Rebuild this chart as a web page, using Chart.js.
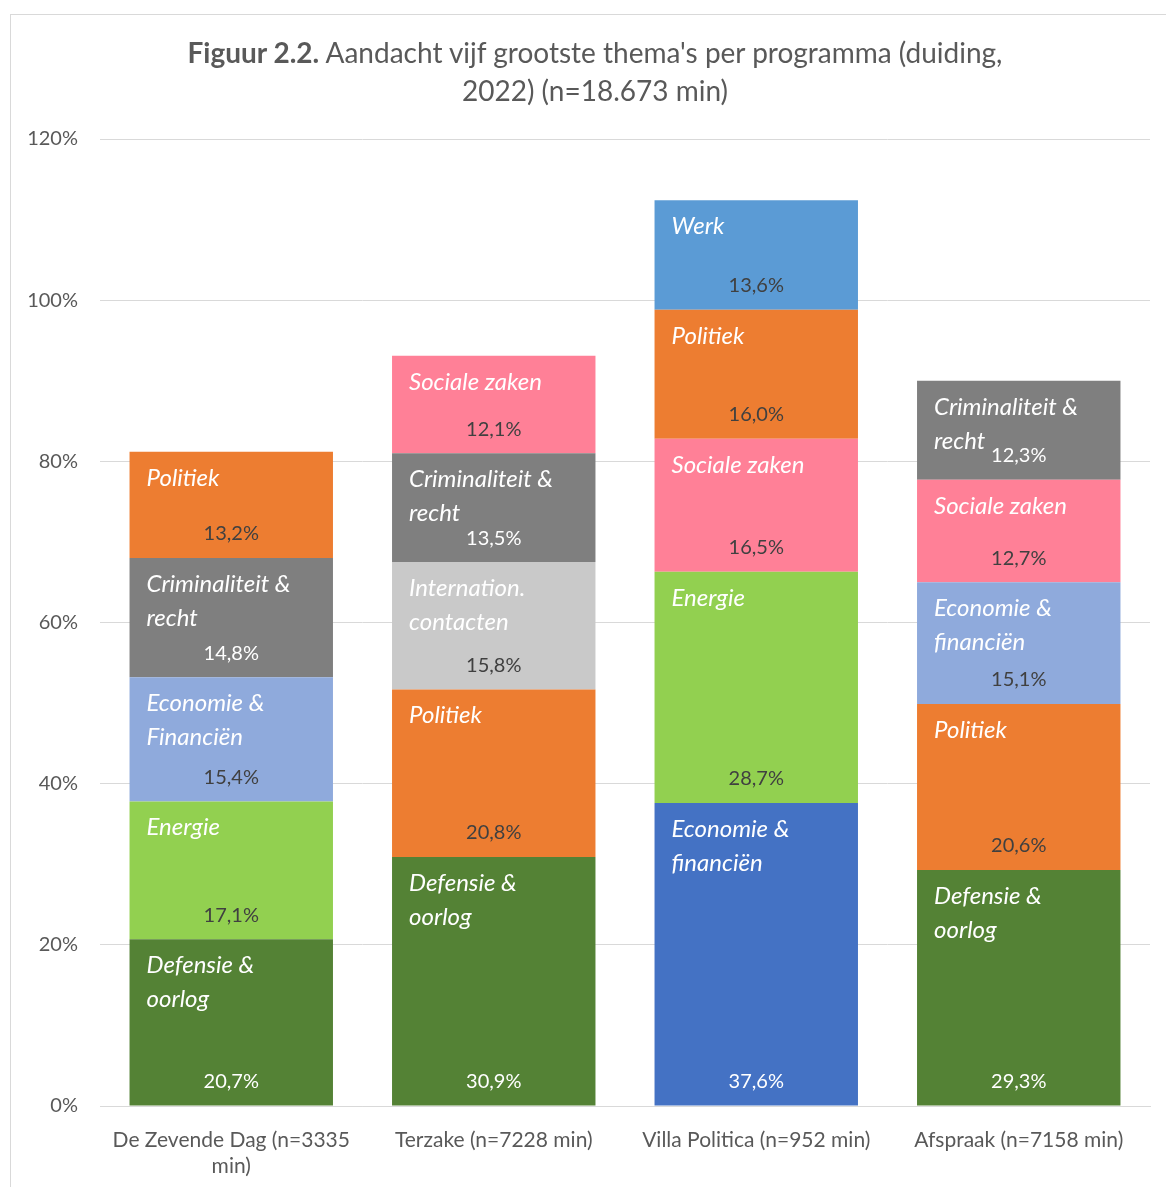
<!DOCTYPE html>
<html>
<head>
<meta charset="utf-8">
<script src="https://cdn.jsdelivr.net/npm/chart.js@4"></script>
<style>
  html, body { margin: 0; padding: 0; background: #fff; }
  #frame { position: absolute; left: 10px; top: 14px; width: 1170px; height: 1190px; border: 1px solid #d9d9d9; }
  #titel { position: absolute; left: 0; top: 33px; width: 1190px; text-align: center;
           font-family: Lato, "Open Sans", sans-serif; font-size: 28px; line-height: 38px; color: #595959; }
  #wrap { position: absolute; left: 0; top: 0; width: 1166px; height: 1187px; }
</style>
</head>
<body>
<div id="frame"></div>
<div id="wrap"><canvas id="canvas"></canvas></div>
<div id="titel"><b>Figuur 2.2.</b> Aandacht vijf grootste thema's per programma (duiding,<br>2022) (n=18.673 min)</div>
<script>
// programma's (x-as)
const programmas = [["De Zevende Dag (n=3335", "min)"], "Terzake (n=7228 min)", "Villa Politica (n=952 min)", "Afspraak (n=7158 min)"];

// per laag in de stapel (onder -> boven): thema en aandeel in %
const laag1Themas = ["Defensie & oorlog", "Defensie & oorlog", "Economie & financiën", "Defensie & oorlog"];
const laag1Waarden = [20.7, 30.9, 37.6, 29.3];
const laag2Themas = ["Energie", "Politiek", "Energie", "Politiek"];
const laag2Waarden = [17.1, 20.8, 28.7, 20.6];
const laag3Themas = ["Economie & Financiën", "Internation. contacten", "Sociale zaken", "Economie & financiën"];
const laag3Waarden = [15.4, 15.8, 16.5, 15.1];
const laag4Themas = ["Criminaliteit & recht", "Criminaliteit & recht", "Politiek", "Sociale zaken"];
const laag4Waarden = [14.8, 13.5, 16.0, 12.7];
const laag5Themas = ["Politiek", "Sociale zaken", "Werk", "Criminaliteit & recht"];
const laag5Waarden = [13.2, 12.1, 13.6, 12.3];

const yTicks = [0, 20, 40, 60, 80, 100, 120];

// kleuren per laag (zelfde volgorde als de programma's)
const kleuren = [
    ["#548235", "#548235", "#4472C4", "#548235"],
    ["#92D050", "#ED7D31", "#92D050", "#ED7D31"],
    ["#8FAADC", "#C9C9C9", "#FF8097", "#8FAADC"],
    ["#7F7F7F", "#7F7F7F", "#ED7D31", "#FF8097"],
    ["#ED7D31", "#FF8097", "#5B9BD5", "#7F7F7F"]
];
// donkere vlakken krijgen een witte waarde
const donker = ["#548235", "#4472C4", "#7F7F7F"];

const lagen = [
    [laag1Themas, laag1Waarden],
    [laag2Themas, laag2Waarden],
    [laag3Themas, laag3Waarden],
    [laag4Themas, laag4Waarden],
    [laag5Themas, laag5Waarden]
];

const FONT = "Lato, 'Open Sans', sans-serif";

function wrapText(ctx, text, maxWidth) {
    const words = text.split(" ");
    let lines = [];
    let line = "";
    for (const w of words) {
        const test = line ? line + " " + w : w;
        if (ctx.measureText(test).width > maxWidth && line) {
            lines.push(line);
            line = w;
        } else {
            line = test;
        }
    }
    if (line) lines.push(line);
    return lines;
}

const segmentLabels = {
    id: "segmentLabels",
    afterDatasetsDraw(chart) {
        const ctx = chart.ctx;
        ctx.save();
        chart.data.datasets.forEach((ds, di) => {
            const meta = chart.getDatasetMeta(di);
            meta.data.forEach((bar, i) => {
                const p = bar.getProps(["x", "y", "base", "width"], true);
                const left = p.x - p.width / 2;
                const top = Math.min(p.y, p.base);
                const bottom = Math.max(p.y, p.base);

                // thema
                ctx.font = "italic 24px " + FONT;
                ctx.fillStyle = "#ffffff";
                ctx.textAlign = "left";
                ctx.textBaseline = "alphabetic";
                const lines = wrapText(ctx, ds.themas[i], 150);
                lines.forEach((l, k) => ctx.fillText(l, left + 17, top + 34 + k * 34));

                // waarde
                ctx.font = "20px " + FONT;
                ctx.textAlign = "center";
                ctx.textBaseline = "middle";
                ctx.fillStyle = donker.includes(ds.backgroundColor[i]) ? "#ffffff" : "#404040";
                ctx.fillText(ds.data[i].toFixed(1).replace(".", ",") + "%", p.x, bottom - 24);
            });
        });
        ctx.restore();
    }
};

const chart = new Chart(document.getElementById("canvas"), {
    type: "bar",
    data: {
        labels: programmas,
        datasets: lagen.map((l, n) => ({
            label: "Laag " + (n + 1),
            data: l[1],
            themas: l[0],
            backgroundColor: kleuren[n],
            borderWidth: 0,
            barPercentage: 0.775,
            categoryPercentage: 1
        }))
    },
    options: {
        responsive: true,
        maintainAspectRatio: false,
        animation: false,
        layout: { padding: { left: 0, right: 16, top: 139, bottom: 0 } },
        plugins: {
            legend: { display: false },
            tooltip: { enabled: false }
        },
        scales: {
            x: {
                stacked: true,
                grid: { display: false },
                border: { display: true, color: "#d9d9d9" },
                ticks: { color: "#595959", font: { family: FONT, size: 21 }, padding: 14, maxRotation: 0 },
                afterFit(scale) { scale.height = 81; }
            },
            y: {
                stacked: true,
                min: 0,
                max: 120,
                afterBuildTicks(scale) { scale.ticks = yTicks.map(v => ({ value: v })); },
                grid: { color: "#d9d9d9", drawTicks: false },
                border: { display: false },
                ticks: {
                    color: "#595959",
                    font: { family: FONT, size: 20 },
                    padding: 22,
                    callback: v => v + "%"
                },
                afterFit(scale) { scale.width = 100; }
            }
        }
    },
    plugins: [segmentLabels]
});
</script>
</body>
</html>
